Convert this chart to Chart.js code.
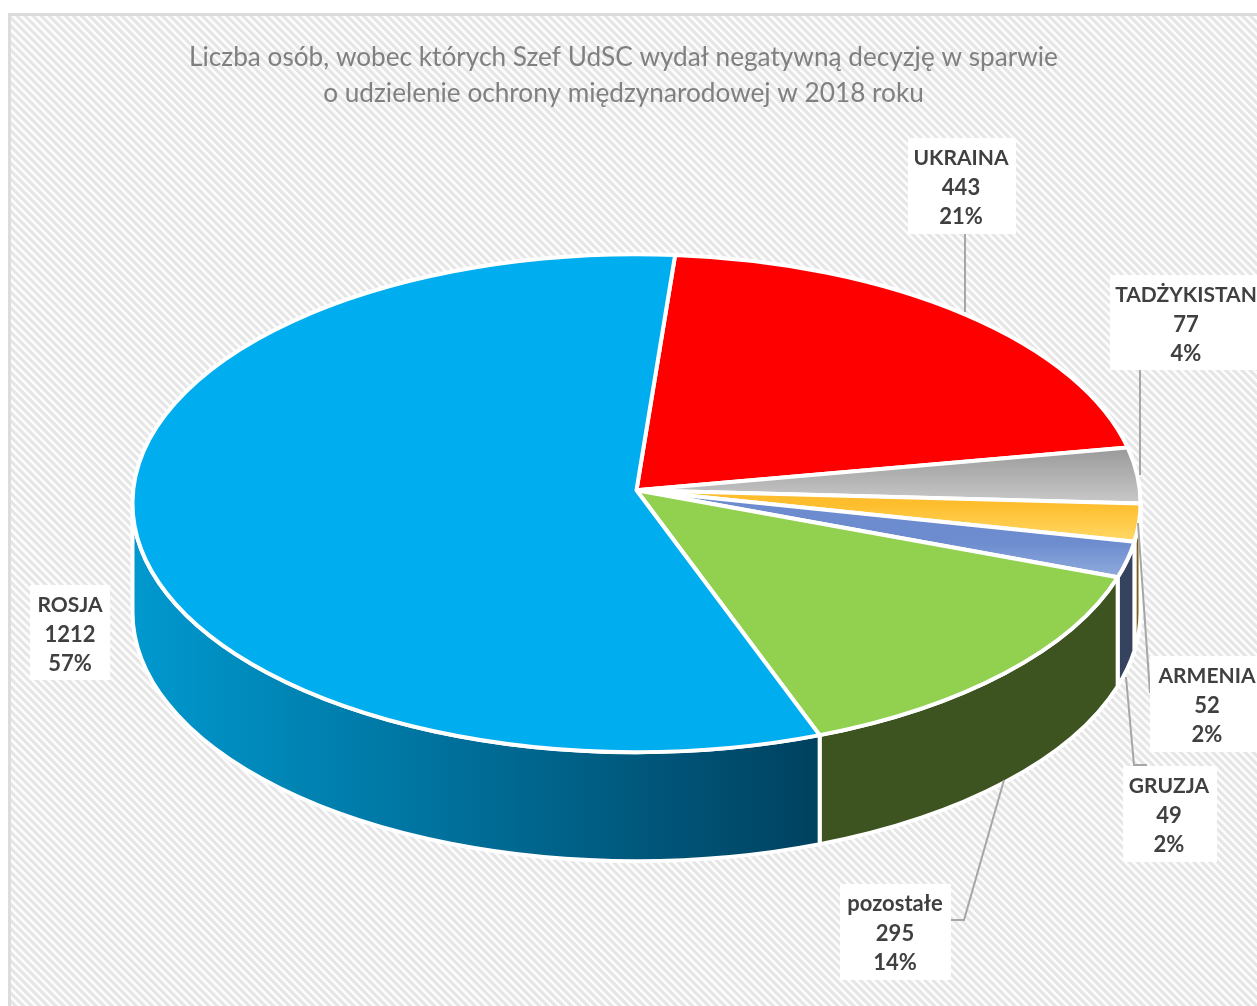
<!DOCTYPE html>
<html>
<head>
<meta charset="utf-8">
<title>Negatywne decyzje 2018</title>
<script src="https://cdn.jsdelivr.net/npm/chart.js@4"></script>
<style>
html, body { margin: 0; padding: 0; background: #fff; overflow: hidden; }
#wrap { position: relative; width: 1257px; height: 1006px; overflow: hidden; }
#hatch {
    position: absolute; left: 8px; top: 13px; width: 1400px; height: 1100px;
    border-left: 3px solid #dcdcdc; border-top: 3px solid #dcdcdc;
    background: repeating-linear-gradient(45deg, #e6e6e6 0, #e6e6e6 2.4px, #fdfdfd 3.2px, #fdfdfd 5px, #e6e6e6 5.7px);
}
#chart { position: absolute; left: 0; top: 0; }
</style>
</head>
<body>
<div id="wrap">
    <div id="hatch"></div>
    <canvas id="chart" width="1257" height="1006"></canvas>
</div>
<script>
// Data
var categories = ['UKRAINA', 'TADŻYKISTAN', 'ARMENIA', 'GRUZJA', 'pozostałe', 'ROSJA'];
var values = [443, 77, 52, 49, 295, 1212];
var percents = ['21%', '4%', '2%', '2%', '14%', '57%'];
var titleLines = [
    'Liczba osób, wobec których Szef UdSC wydał negatywną decyzję w sparwie',
    'o udzielenie ochrony międzynarodowej w 2018 roku',
];

// Styles
var faceTop = ['#ff0000', '#999999', '#fdbd2c', '#6c8ccf', '#92d050', '#00aeef'];
var faceBottom = ['#ff0000', '#c9c9c9', '#ffd966', '#8faadc', '#92d050', '#00aeef'];
var wallLeft = ['#990000', '#777777', '#7a6020', '#36435f', '#3d5320', '#0099cf'];
var wallRight = ['#990000', '#777777', '#7a6020', '#36435f', '#3d5320', '#00415f'];

// Label boxes and leader lines, same order as categories
var labelBoxes = [
    { x: 908, y: 138, w: 108, h: 96 },
    { x: 1110, y: 275, w: 160, h: 95 },
    { x: 1150, y: 656, w: 120, h: 96 },
    { x: 1123, y: 766, w: 94, h: 96 },
    { x: 840, y: 884, w: 111, h: 96 },
    { x: 30, y: 585, w: 80, h: 95 },
];
var labelCenters = [961, 1186, 1207, 1169, 895, 70];
var leaders = [
    [[965, 234], [965, 312]],
    [[1140, 370], [1140, 475]],
    [[1138, 523], [1150, 693]],
    [[1126, 677], [1134, 765], [1147, 765]],
    [[1004, 780], [964, 920], [951, 920]],
    [],
];

var squash = 0.494;
var wallDepth = 109;
var apexLift = 13;
var pieShift = 13;

function ellipsePoint(cx, cy, rx, ry, t) {
    return { x: cx + rx * Math.cos(t), y: cy + ry * Math.sin(t) };
}

// small perspective correction of the angles on the tilted disc
function warp(t) {
    return t - 0.0436 * Math.cos(t);
}

// Draws the pie slices as a tilted disc, using the angles chart.js worked out
var pie3d = {
    id: 'pie3d',
    beforeDatasetDraw: function (chart) {
        var ctx = chart.ctx;
        var arcs = chart.getDatasetMeta(0).data;
        ctx.save();
        ctx.lineJoin = 'round';
        ctx.strokeStyle = '#ffffff';
        ctx.lineWidth = 4;

        // side walls, only the front half of the disc is visible
        arcs.forEach(function (arc, i) {
            var cx = arc.x + pieShift;
            var cy = arc.y;
            var rx = arc.outerRadius;
            var ry = rx * squash;
            var a = Math.max(warp(arc.startAngle), 0);
            var b = Math.min(warp(arc.endAngle), Math.PI);
            if (b <= a) return;
            var p1 = ellipsePoint(cx, cy, rx, ry, a);
            var p2 = ellipsePoint(cx, cy, rx, ry, b);
            var grad = ctx.createLinearGradient(p2.x, 0, p1.x, 0);
            grad.addColorStop(0, wallLeft[i]);
            grad.addColorStop(1, wallRight[i]);
            ctx.beginPath();
            ctx.ellipse(cx, cy, rx, ry, 0, a, b);
            ctx.lineTo(p2.x, p2.y + wallDepth);
            ctx.ellipse(cx, cy + wallDepth, rx, ry, 0, b, a, true);
            ctx.closePath();
            ctx.fillStyle = grad;
            ctx.fill();
            ctx.stroke();
        });

        // top faces
        arcs.forEach(function (arc, i) {
            var cx = arc.x + pieShift;
            var cy = arc.y;
            var rx = arc.outerRadius;
            var ry = rx * squash;
            var a = warp(arc.startAngle);
            var b = warp(arc.endAngle);
            var p1 = ellipsePoint(cx, cy, rx, ry, a);
            var p2 = ellipsePoint(cx, cy, rx, ry, b);
            var grad = ctx.createLinearGradient(0, Math.min(p1.y, p2.y), 0, Math.max(p1.y, p2.y));
            grad.addColorStop(0, faceTop[i]);
            grad.addColorStop(1, faceBottom[i]);
            ctx.beginPath();
            ctx.moveTo(cx, cy - apexLift);
            ctx.lineTo(p1.x, p1.y);
            ctx.ellipse(cx, cy, rx, ry, 0, a, b);
            ctx.closePath();
            ctx.fillStyle = grad;
            ctx.fill();
            ctx.stroke();
        });
        ctx.restore();
        return false;
    },
    afterDraw: function (chart) {
        var ctx = chart.ctx;
        ctx.save();
        ctx.strokeStyle = '#a6a6a6';
        ctx.lineWidth = 2;
        leaders.forEach(function (pts) {
            if (!pts.length) return;
            ctx.beginPath();
            pts.forEach(function (p, j) {
                if (j === 0) ctx.moveTo(p[0], p[1]);
                else ctx.lineTo(p[0], p[1]);
            });
            ctx.stroke();
        });
        ctx.textAlign = 'center';
        ctx.textBaseline = 'middle';
        categories.forEach(function (name, i) {
            var box = labelBoxes[i];
            ctx.fillStyle = '#ffffff';
            ctx.fillRect(box.x, box.y, box.w, box.h);
            ctx.fillStyle = '#404040';
            // caps run a bit wide in Lato
            ctx.font = name === name.toUpperCase() ? 'bold 21px Lato' : 'bold 22px Lato';
            ctx.fillText(name, labelCenters[i], box.y + 20);
            ctx.font = 'bold 22px Lato';
            ctx.fillText(String(values[i]), labelCenters[i], box.y + 50);
            ctx.fillText(percents[i], labelCenters[i], box.y + 79);
        });
        ctx.restore();
    },
};

var ctx = document.getElementById('chart').getContext('2d');
var pieChart = new Chart(ctx, {
    type: 'pie',
    data: {
        labels: categories,
        datasets: [
            {
                data: values,
                backgroundColor: faceTop,
                borderWidth: 0,
            },
        ],
    },
    options: {
        responsive: false,
        animation: false,
        radius: 504,
        rotation: 4.6,
        layout: {
            padding: { left: 0, right: 10, top: 0, bottom: 112 },
        },
        plugins: {
            legend: { display: false },
            tooltip: { enabled: false },
            title: {
                display: true,
                text: titleLines,
                color: '#808080',
                font: { family: 'Lato', size: 26.2, weight: 'normal', lineHeight: 1.4 },
                padding: { top: 39, bottom: 0 },
            },
        },
    },
    plugins: [pie3d],
});
</script>
</body>
</html>
